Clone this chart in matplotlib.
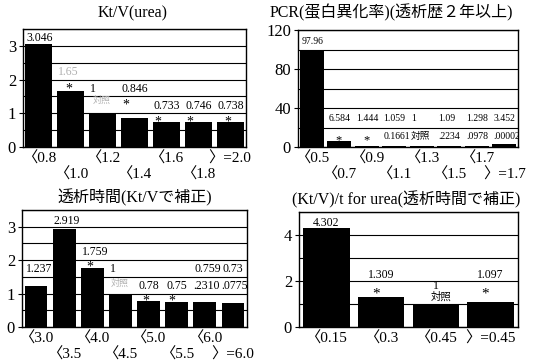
import numpy as np
import matplotlib
matplotlib.use("Agg")
import matplotlib.pyplot as plt
from matplotlib.ticker import MultipleLocator
from matplotlib.transforms import offset_copy

plt.rcParams['font.family'] = ['Liberation Serif', 'Noto Sans CJK JP']

# ---- data -------------------------------------------------------------
ktv_cats = ["〈0.8", "〈1.0", "〈1.2", "〈1.4", "〈1.6", "〈1.8", "〉=2.0"]
ktv_vals = [3.046, 1.65, 1.0, 0.846, 0.733, 0.746, 0.738]
ktv_notes = ["", "*", "対照", "*", "*", "*", "*"]

pcr_cats = ["〈0.5", "〈0.7", "〈0.9", "〈1.1", "〈1.3", "〈1.5", "〈1.7", "〉=1.7"]
pcr_vals = [97.96, 6.584, 1.444, 1.059, 1.0, 1.09, 1.298, 3.452]
pcr_notes = ["", "*", "*", "0.1661", "対照", ".2234", ".0978", ".00002"]

time_cats = ["〈3.0", "〈3.5", "〈4.0", "〈4.5", "〈5.0", "〈5.5", "〈6.0", "〉=6.0"]
time_vals = [1.237, 2.919, 1.759, 1.0, 0.78, 0.75, 0.759, 0.73]
time_notes = ["", "", "*", "対照", "*", "*", ".2310", ".0775"]

kvt_cats = ["〈0.15", "〈0.3", "〈0.45", "〉=0.45"]
kvt_vals = [4.302, 1.309, 1.0, 1.097]
kvt_notes = ["", "*", "対照", "*"]

W, H = 535, 364
fig = plt.figure(figsize=(W / 100, H / 100), dpi=100)


def add_axes(left, top, right, bottom):
    return fig.add_axes([left / W, 1 - bottom / H, (right - left) / W, (bottom - top) / H])


def panel(ax, vals, ymax, step, ticks, width, cats, two_rows, tick_size):
    x = np.arange(len(vals))
    ax.bar(x, vals, width=width, color='black', zorder=3)
    ax.set_xlim(-0.5, len(vals) - 0.5)
    ax.set_ylim(0, ymax)
    ax.set_yticks(ticks)
    ax.yaxis.set_minor_locator(MultipleLocator(step))
    ax.grid(axis='y', which='both', color='black', lw=0.8, zorder=1)
    ax.set_xticks([])
    ax.tick_params(axis='y', which='major', length=3, width=0.8, labelsize=12, pad=2)
    ax.tick_params(axis='y', which='minor', length=0)
    for s in ax.spines.values():
        s.set_linewidth(1.0)
        s.set_zorder(5)
    tr = ax.get_xaxis_transform()
    for i, c in enumerate(cats):
        row = (i % 2) if two_rows else 0
        off = -3 if row == 0 else -15
        t = offset_copy(tr, fig=fig, x=0, y=off, units='points')
        ax.text(i, 0, c, transform=t, ha='center', va='top', fontsize=tick_size)
    return x


def label(ax, x, y, s, size, color='black', ha='left', clip=False):
    ax.text(x, y, s, ha=ha, va='center', fontsize=size, color=color,
            zorder=4, clip_on=clip)


def star(ax, x, y, size=10, ha='left'):
    # the asterisk glyph sits high in its line box, so anchor on the baseline
    ax.text(x, y, "*", ha=ha, va='baseline', fontsize=size, zorder=4)


# ---- Kt/V(urea) -------------------------------------------------------
ax1 = add_axes(23, 29, 246, 147)
w1 = 0.85
x1 = panel(ax1, ktv_vals, 3.5, 0.5, [0, 1, 2, 3], w1, ktv_cats, True, 11)
val_y1 = [3.22, 2.22, 1.72, 1.72, 1.21, 1.21, 1.21]
note_y1 = [0, 1.62, 1.37, 1.15, 0.63, 0.63, 0.63]
note_dx1 = [0, 0.25, 0.12, 0.05, 0.05, 0.05, 0.25]
for i, v in enumerate(ktv_vals):
    faded = i == 1
    label(ax1, x1[i] - w1 / 2 + 0.03, val_y1[i], f"{v:g}", 8.5,
          color='#b0b0b0' if faded else 'black')
    n = ktv_notes[i]
    if n == "*":
        star(ax1, x1[i] - w1 / 2 + note_dx1[i], note_y1[i])
    elif n:
        label(ax1, x1[i] - w1 / 2 + note_dx1[i], note_y1[i], n, 6.5, color='#b0b0b0')
fig.text(133 / W, 1 - 13 / H, "Kt/V(urea)", ha='center', va='center', fontsize=11.5)

# ---- PCR --------------------------------------------------------------
ax2 = add_axes(298, 30, 518, 147)
w2 = 0.87
x2 = panel(ax2, pcr_vals, 120, 20, [0, 40, 80, 120], w2, pcr_cats, True, 11)
for i, v in enumerate(pcr_vals):
    vy = 108.5 if i == 0 else 29.3
    label(ax2, x2[i] - w2 / 2 + 0.05, vy, f"{v:g}", 7)
    n = pcr_notes[i]
    if n == "*":
        star(ax2, x2[i] - w2 / 2 + 0.3, 3.5, size=9)
    elif n:
        label(ax2, x2[i] - w2 / 2 + 0.05, 10.4, n, 7, clip=True)
fig.text(270 / W, 1 - 13 / H, "PCR(蛋白異化率)(透析歴２年以上)", ha='left', va='center',
         fontsize=11.5)

# ---- 透析時間 ----------------------------------------------------------
ax3 = add_axes(22, 210, 247, 327)
w3 = 0.81
x3 = panel(ax3, time_vals, 3.5, 0.5, [0, 1, 2, 3], w3, time_cats, True, 11)
val_y3 = [1.74, 3.18, 2.24, 1.74, 1.23, 1.23, 1.74, 1.74]
note_y3 = [0, 0, 1.69, 1.31, 0.66, 0.66, 1.23, 1.23]
note_dx3 = [0, 0, 0.2, 0.05, 0.2, 0.12, 0.0, 0.0]
for i, v in enumerate(time_vals):
    label(ax3, x3[i] - w3 / 2 + 0.04, val_y3[i], f"{v:g}", 8.5)
    n = time_notes[i]
    if n == "*":
        star(ax3, x3[i] - w3 / 2 + note_dx3[i], note_y3[i])
    elif n:
        col = '#b0b0b0' if n == "対照" else 'black'
        label(ax3, x3[i] - w3 / 2 + note_dx3[i], note_y3[i], n,
              6.5 if n == "対照" else 8.5, color=col)
fig.text(135 / W, 1 - 198 / H, "透析時間(Kt/Vで補正)", ha='center', va='center',
         fontsize=11.5)

# ---- (Kt/V)/t ---------------------------------------------------------
ax4 = add_axes(299, 212, 518, 327)
w4 = 0.85
x4 = panel(ax4, kvt_vals, 5, 1, [0, 2, 4], w4, kvt_cats, False, 11)
for i, v in enumerate(kvt_vals):
    vy = 4.52 if i == 0 else (1.77 if kvt_notes[i] == "対照" else 2.25)
    label(ax4, x4[i], vy, f"{v:g}", 8.5, ha='center')
    n = kvt_notes[i]
    if n == "*":
        star(ax4, x4[i] - 0.1, 1.3, size=11, ha='center')
    elif n:
        label(ax4, x4[i] + 0.1, 1.3, n, 7.5, ha='center')
fig.text(406 / W, 1 - 200 / H, "(Kt/V)/t for urea(透析時間で補正)", ha='center',
         va='center', fontsize=11.5)

fig.savefig("out.png", dpi=100)
